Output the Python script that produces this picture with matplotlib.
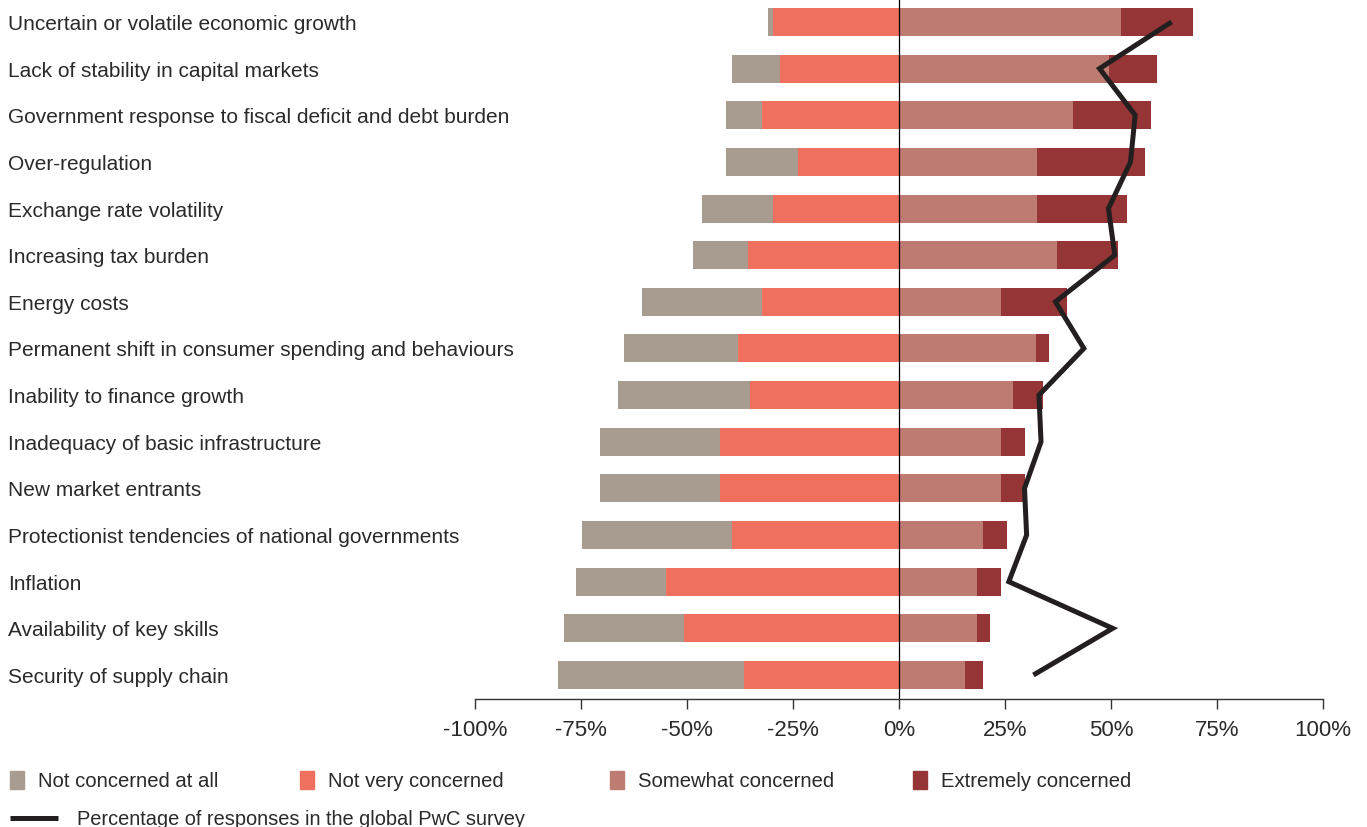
import matplotlib
matplotlib.use("Agg")
import matplotlib.pyplot as plt
from matplotlib.patches import Rectangle
from matplotlib.lines import Line2D
from matplotlib.transforms import blended_transform_factory, offset_copy

plt.rcParams["font.family"] = ["Liberation Sans", "DejaVu Sans"]

# ── Survey data (% of respondents), top row first ─────────────────────────
CONCERNS = [
    "Uncertain or volatile economic growth",
    "Lack of stability in capital markets",
    "Government response to fiscal deficit and debt burden",
    "Over-regulation",
    "Exchange rate volatility",
    "Increasing tax burden",
    "Energy costs",
    "Permanent shift in consumer spending and behaviours",
    "Inability to finance growth",
    "Inadequacy of basic infrastructure",
    "New market entrants",
    "Protectionist tendencies of national governments",
    "Inflation",
    "Availability of key skills",
    "Security of supply chain",
]
not_at_all = [1.3, 11.3, 8.5, 17.0, 16.9, 12.9, 28.4, 26.9, 31.0, 28.4, 28.4, 35.4, 21.1, 28.3, 43.9]
not_very = [29.6, 28.1, 32.3, 23.8, 29.6, 35.7, 32.3, 38.0, 35.2, 42.2, 42.2, 39.4, 55.0, 50.7, 36.6]
somewhat = [52.3, 49.6, 41.0, 32.5, 32.5, 37.3, 24.1, 32.3, 26.9, 24.1, 24.1, 19.8, 18.4, 18.4, 15.6]
extremely = [17.1, 11.2, 18.5, 25.5, 21.3, 14.4, 15.5, 3.1, 7.1, 5.6, 5.6, 5.7, 5.7, 3.1, 4.2]
global_pwc = [64.3, 47.3, 55.7, 54.6, 49.4, 50.9, 36.9, 43.6, 33.0, 33.5, 29.6, 30.1, 25.9, 50.4, 31.7]

XTICKS = [-100, -75, -50, -25, 0, 25, 50, 75, 100]

C_NOT_AT_ALL = "#A89B90"
C_NOT_VERY = "#F07060"
C_SOMEWHAT = "#BE7B72"
C_EXTREME = "#963535"
C_LINE = "#231F20"
C_TEXT = "#2A2A2A"

n = len(CONCERNS)
y = [n - 1 - i for i in range(n)]

fig = plt.figure(figsize=(13.67, 8.27), dpi=100)
ax = fig.add_axes([475 / 1367, 1 - 699 / 827, 848 / 1367, 699 / 827])

bh = 0.6
neg_inner = [-v for v in not_very]
neg_outer = [-(a + b) for a, b in zip(not_at_all, not_very)]
ax.barh(y, not_at_all, left=neg_outer, height=bh, color=C_NOT_AT_ALL, linewidth=0)
ax.barh(y, not_very, left=neg_inner, height=bh, color=C_NOT_VERY, linewidth=0)
ax.barh(y, somewhat, left=0, height=bh, color=C_SOMEWHAT, linewidth=0)
ax.barh(y, extremely, left=somewhat, height=bh, color=C_EXTREME, linewidth=0)

ax.plot(global_pwc, y, color=C_LINE, linewidth=3.6, solid_joinstyle="miter",
        solid_capstyle="butt", zorder=4)
ax.axvline(0, color="black", linewidth=0.9, zorder=5)

ax.set_xlim(-100, 100)
ax.set_ylim(-0.515, n - 1 + 0.47)
ax.set_xticks(XTICKS)
ax.set_xticklabels([f"{t}%" for t in XTICKS])
ax.tick_params(axis="x", direction="out", length=7, width=1, color="#333333",
               labelsize=16, labelcolor=C_TEXT, pad=8)
ax.set_yticks([])
for side in ("top", "right", "left"):
    ax.spines[side].set_visible(False)
ax.spines["bottom"].set_color("#333333")
ax.spines["bottom"].set_linewidth(1.0)

# Row labels flush to the left edge of the figure, baseline a little below row centre
tr = offset_copy(blended_transform_factory(fig.transFigure, ax.transData),
                 fig=fig, y=-8, units="dots")
for label, yy in zip(CONCERNS, y):
    fig.text(8 / 1367, yy, label, transform=tr, ha="left", va="baseline",
             fontsize=15, color=C_TEXT)

# ── Legend drawn in figure pixels ─────────────────────────────────────────
W, H = 1367, 827
legend_items = [
    (10, "Not concerned at all", C_NOT_AT_ALL),
    (300, "Not very concerned", C_NOT_VERY),
    (610, "Somewhat concerned", C_SOMEWHAT),
    (913, "Extremely concerned", C_EXTREME),
]
for x0, text, col in legend_items:
    fig.patches.append(Rectangle((x0 / W, 1 - 789 / H), 14 / W, 18 / H,
                                 transform=fig.transFigure, color=col, figure=fig))
    fig.text((x0 + 28) / W, 1 - 787 / H, text, ha="left", va="baseline",
             fontsize=14.6, color=C_TEXT)

fig.lines.append(Line2D([10 / W, 58 / W], [1 - 818 / H, 1 - 818 / H], color=C_LINE,
                        linewidth=3.6, solid_capstyle="butt",
                        transform=fig.transFigure, figure=fig))
fig.text(77 / W, 1 - 825 / H, "Percentage of responses in the global PwC survey",
         ha="left", va="baseline", fontsize=14.4, color=C_TEXT)

fig.savefig("out.png", dpi=100, facecolor="white")
